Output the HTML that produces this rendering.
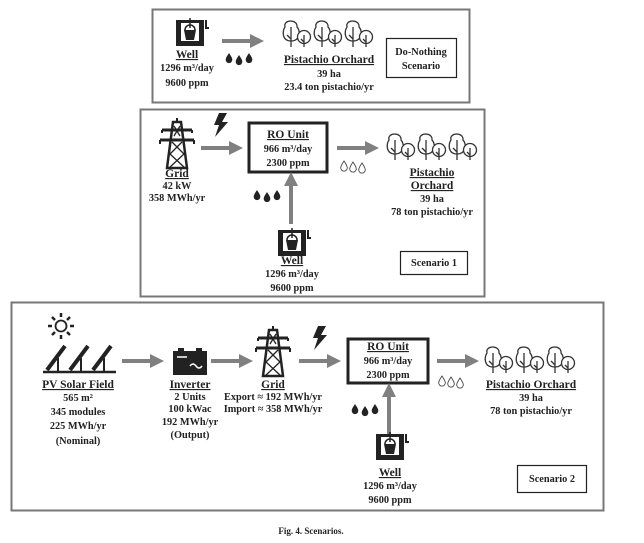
<!DOCTYPE html>
<html><head><meta charset="utf-8"><style>
html,body{margin:0;padding:0;background:#fff;}
svg text{font-family:"Liberation Serif",serif;font-weight:bold;font-size:10.3px;fill:#222;text-anchor:middle;}
svg text.t{font-size:11.5px;text-decoration:underline;}
</style></head><body>
<svg width="644" height="538" viewBox="0 0 644 538" xmlns="http://www.w3.org/2000/svg">
<defs>
<g id="arrowR"><line x1="0" y1="0" x2="30" y2="0" stroke="#808080" stroke-width="4"/><polygon points="28,-7 42,0 28,7" fill="#808080"/></g>
<g id="arrowU"><line x1="0" y1="0" x2="0" y2="-40" stroke="#808080" stroke-width="4"/><polygon points="-7,-38 0,-52 7,-38" fill="#808080"/></g>
<g id="drop"><path d="M0,-5 C2,-2 3.3,0 3.3,1.8 A3.3,3.3 0 0 1 -3.3,1.8 C-3.3,0 -2,-2 0,-5Z"/></g>
<g id="drops" fill="#222"><use href="#drop" x="0" y="0"/><use href="#drop" x="10" y="2"/><use href="#drop" x="20" y="0"/></g>
<g id="hdrops" fill="none" stroke="#444" stroke-width="0.9"><use href="#drop" x="0" y="0"/><use href="#drop" x="9" y="1"/><use href="#drop" x="18" y="2"/></g>
<g id="well"><rect x="0" y="6" width="5" height="24" fill="#222"/><rect x="23" y="6" width="5" height="24" fill="#222"/><rect x="0" y="25" width="28" height="5" fill="#222"/><rect x="0" y="4" width="28" height="3" fill="#222"/><path d="M8,14 h12 l-2,10 h-8z" fill="#222"/><path d="M9,14 a5,5 0 0 1 10,0" fill="none" stroke="#222" stroke-width="1.5"/><line x1="14" y1="2" x2="14" y2="12" stroke="#222" stroke-width="1.5"/><path d="M30,4 v8 h3" fill="none" stroke="#222" stroke-width="2"/></g>
<g id="tree2" fill="#fff" stroke="#333" stroke-width="1.3"><path d="M9,24 C0,24 0,14 3,10 C1,2 16,2 15,10 C19,14 18,24 9,24Z"/><line x1="9" y1="10" x2="9" y2="30"/><line x1="5" y1="18" x2="9" y2="22"/><circle cx="22" cy="20" r="6.5"/><line x1="22" y1="18" x2="22" y2="30"/><line x1="19" y1="22" x2="22" y2="25"/></g>
<g id="trees"><use href="#tree2" x="0"/><use href="#tree2" x="31"/><use href="#tree2" x="62"/></g>
<g id="tower" fill="none" stroke="#222" stroke-width="2"><line x1="17" y1="0" x2="17" y2="4"/><polygon points="13,4 21,4 27,50 7,50" stroke-width="2.5"/><line x1="2" y1="12" x2="32" y2="12" stroke-width="3"/><line x1="0" y1="22" x2="34" y2="22" stroke-width="3"/><line x1="2" y1="12" x2="2" y2="15"/><line x1="32" y1="12" x2="32" y2="15"/><line x1="0" y1="22" x2="0" y2="26"/><line x1="34" y1="22" x2="34" y2="26"/><path d="M12,24 L24,36 L9,50 M22,24 L10,36 L25,50 M14,8 L20,18 M20,8 L14,18" stroke-width="1.3"/></g>
<g id="bolt"><polygon points="6,0 14,0 9,9 15,9 2,24 6,12 1,12" fill="#222"/></g>
</defs>

<!-- Box 1 -->
<rect x="152.5" y="9.5" width="317" height="93" fill="none" stroke="#777" stroke-width="2"/>
<use href="#well" x="176" y="16"/>
<text x="187" y="58" class="t">Well</text>
<text x="187" y="71">1296 m³/day</text>
<text x="187" y="86">9600 ppm</text>
<use href="#arrowR" x="222" y="41"/>
<use href="#drops" x="229" y="58"/>
<use href="#trees" x="282" y="17"/>
<text x="329" y="63" class="t">Pistachio Orchard</text>
<text x="329" y="77">39 ha</text>
<text x="329" y="90">23.4 ton pistachio/yr</text>
<rect x="386.5" y="38.5" width="70" height="39" fill="none" stroke="#222" stroke-width="1.2"/>
<text x="421" y="55">Do-Nothing</text>
<text x="421" y="69">Scenario</text>

<!-- Box 2 -->
<rect x="140.5" y="109.5" width="344" height="187" fill="none" stroke="#777" stroke-width="2"/>
<use href="#tower" x="160" y="118"/>
<use href="#bolt" x="213" y="113"/>
<text x="177" y="177" class="t">Grid</text>
<text x="177" y="189">42 kW</text>
<text x="177" y="201">358 MWh/yr</text>
<use href="#arrowR" x="201" y="148"/>
<rect x="249" y="123" width="78" height="49" fill="none" stroke="#222" stroke-width="3"/>
<text x="288" y="138" class="t">RO Unit</text>
<text x="288" y="152">966 m³/day</text>
<text x="288" y="166">2300 ppm</text>
<use href="#arrowR" x="337" y="148"/>
<use href="#hdrops" x="344" y="166"/>
<use href="#trees" x="386" y="130"/>
<text x="432" y="176" class="t">Pistachio</text>
<text x="432" y="189" class="t">Orchard</text>
<text x="432" y="202">39 ha</text>
<text x="432" y="215">78 ton pistachio/yr</text>
<use href="#arrowU" x="291" y="224"/>
<use href="#drops" x="257" y="195"/>
<use href="#well" x="278" y="226"/>
<text x="292" y="264" class="t">Well</text>
<text x="292" y="277">1296 m³/day</text>
<text x="292" y="291">9600 ppm</text>
<rect x="400.5" y="251.5" width="67" height="23" fill="none" stroke="#222" stroke-width="1.2"/>
<text x="434" y="266">Scenario 1</text>

<!-- Box 3 -->
<rect x="11.5" y="302.5" width="592" height="208" fill="none" stroke="#777" stroke-width="2"/>
<g stroke="#222" stroke-width="2.5" fill="none"><circle cx="61" cy="326" r="5.5" stroke-width="1.8"/>
<line x1="61" y1="313" x2="61" y2="317"/><line x1="61" y1="335" x2="61" y2="339"/><line x1="48" y1="326" x2="52" y2="326"/><line x1="70" y1="326" x2="74" y2="326"/><line x1="52" y1="317" x2="55" y2="320"/><line x1="67" y1="332" x2="70" y2="335"/><line x1="70" y1="317" x2="67" y2="320"/><line x1="52" y1="335" x2="55" y2="332"/></g>
<g stroke="#222" fill="none"><line x1="43" y1="372" x2="116" y2="372" stroke-width="2.5"/>
<path d="M47,370 L65,346 M70,370 L88,346 M93,370 L111,346" stroke-width="4"/>
<path d="M58,358 v13 M81,358 v13 M104,358 v13" stroke-width="2"/></g>
<text x="78" y="388" class="t">PV Solar Field</text>
<text x="78" y="401">565 m²</text>
<text x="78" y="415">345 modules</text>
<text x="78" y="429">225 MWh/yr</text>
<text x="78" y="444">(Nominal)</text>
<use href="#arrowR" x="122" y="361"/>
<rect x="173" y="351" width="34" height="24" fill="#222"/><rect x="178" y="348" width="6" height="3" fill="#222"/><rect x="196" y="348" width="6" height="3" fill="#222"/>
<line x1="177" y1="357" x2="187" y2="357" stroke="#fff" stroke-width="1.5"/>
<path d="M190,366 q3,-4 6,0 q3,4 6,0" stroke="#fff" stroke-width="1.5" fill="none"/>
<text x="190" y="388" class="t">Inverter</text>
<text x="190" y="400">2 Units</text>
<text x="190" y="412">100 kWac</text>
<text x="190" y="425">192 MWh/yr</text>
<text x="190" y="438">(Output)</text>
<use href="#arrowR" x="211" y="361"/>
<use href="#tower" x="256" y="326"/>
<use href="#bolt" x="312" y="326"/>
<text x="273" y="388" class="t">Grid</text>
<text x="273" y="400">Export ≈ 192 MWh/yr</text>
<text x="273" y="412">Import ≈ 358 MWh/yr</text>
<use href="#arrowR" x="299" y="361"/>
<rect x="348" y="339" width="80" height="44" fill="none" stroke="#222" stroke-width="3"/>
<text x="388" y="350" class="t">RO Unit</text>
<text x="388" y="364">966 m³/day</text>
<text x="388" y="378">2300 ppm</text>
<use href="#arrowR" x="437" y="361"/>
<use href="#hdrops" x="442" y="381"/>
<use href="#trees" x="484" y="343"/>
<text x="531" y="388" class="t">Pistachio Orchard</text>
<text x="531" y="401">39 ha</text>
<text x="531" y="414">78 ton pistachio/yr</text>
<use href="#arrowU" x="389" y="435"/>
<use href="#drops" x="355" y="409"/>
<use href="#well" x="376" y="430"/>
<text x="390" y="476" class="t">Well</text>
<text x="390" y="489">1296 m³/day</text>
<text x="390" y="503">9600 ppm</text>
<rect x="517.5" y="465.5" width="69" height="27" fill="none" stroke="#222" stroke-width="1.2"/>
<text x="552" y="482">Scenario 2</text>

<text x="311" y="534" style="font-size:9px">Fig. 4.  Scenarios.</text>
</svg>
</body></html>
